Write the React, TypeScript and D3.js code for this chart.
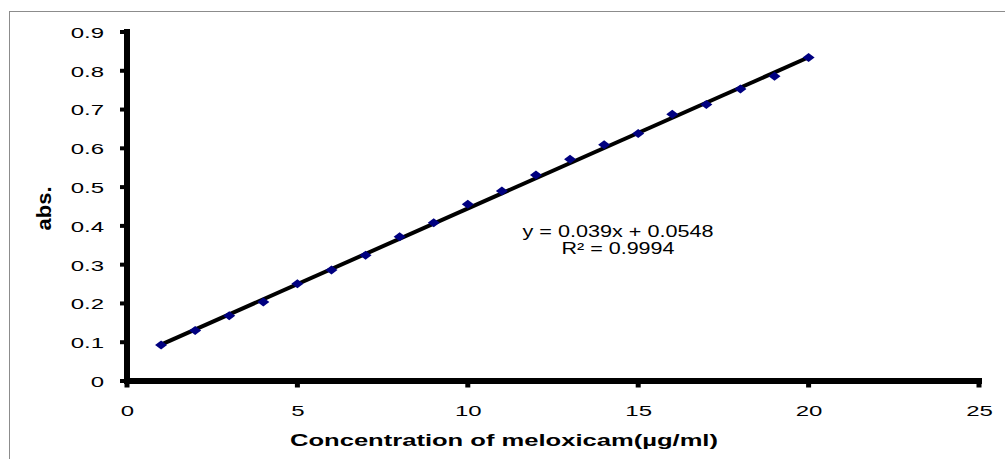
import React, { useEffect, useRef } from 'react';
import * as d3 from 'd3';

// calibration data
const concentration = [1, 2, 3, 4, 5, 6, 7, 8, 9, 10, 11, 12, 13, 14, 15, 16, 17, 18, 19, 20];
const absorbance = [
  0.093, 0.130, 0.168, 0.204, 0.251, 0.286, 0.324, 0.372, 0.408, 0.456,
  0.490, 0.531, 0.572, 0.609, 0.638, 0.688, 0.713, 0.753, 0.786, 0.834,
];
const xTicks = [0, 5, 10, 15, 20, 25];
const yTicks = [0, 0.1, 0.2, 0.3, 0.4, 0.5, 0.6, 0.7, 0.8, 0.9];
const fitSlope = 0.039;
const fitIntercept = 0.0548;
const equationLines = ['y = 0.039x + 0.0548', 'R² = 0.9994'];
const xTitle = 'Concentration of meloxicam(µg/ml)';
const yTitle = 'abs.';

const W = 1005;
const H = 459;
const FONT = "'Liberation Sans', Arial, sans-serif";

const App = () => {
  const svgRef = useRef<SVGSVGElement>(null);

  useEffect(() => {
    const svg = d3.select(svgRef.current);
    svg.selectAll('*').remove();

    const x = d3.scaleLinear().domain([0, 25]).range([127, 979]);
    const y = d3.scaleLinear().domain([0, 0.9]).range([381, 32]);

    // outer frame (cut off on right / bottom)
    svg.append('rect')
      .attr('x', 9.5).attr('y', 11.5)
      .attr('width', W + 20).attr('height', H + 20)
      .attr('fill', 'white')
      .attr('stroke', '#8c8c8c')
      .attr('stroke-width', 1);

    // y axis labels (d3 axis, lines drawn separately below)
    const yAxis = svg.append('g')
      .attr('transform', `translate(${x(0)},0)`)
      .call(d3.axisLeft(y).tickValues(yTicks).tickSize(0).tickSizeOuter(0).tickFormat(d => String(d)));
    yAxis.select('.domain').remove();
    yAxis.selectAll('.tick line').remove();
    yAxis.selectAll('.tick text')
      .attr('x', 0)
      .attr('dy', '0.36em')
      .attr('text-anchor', 'end')
      .attr('transform', 'translate(-23,0) scale(1.6,1)')
      .attr('font-family', FONT)
      .attr('font-size', 15)
      .attr('fill', '#000');

    // x axis labels
    const xAxis = svg.append('g')
      .attr('transform', `translate(0,${y(0)})`)
      .call(d3.axisBottom(x).tickValues(xTicks).tickSize(0).tickSizeOuter(0));
    xAxis.select('.domain').remove();
    xAxis.selectAll('.tick line').remove();
    xAxis.selectAll('.tick text')
      .attr('y', 35)
      .attr('dy', 0)
      .attr('transform', 'scale(1.6,1)')
      .attr('font-family', FONT)
      .attr('font-size', 15)
      .attr('fill', '#000');

    // heavy axis lines and tick marks
    const axes = svg.append('g').attr('stroke', '#000').style('stroke-linecap', 'square');
    axes.append('line')
      .attr('x1', x(0)).attr('x2', x(0))
      .attr('y1', y(0.9)).attr('y2', y(0))
      .style('stroke-width', '6px');
    axes.append('line')
      .attr('x1', x(0)).attr('x2', x(25))
      .attr('y1', y(0)).attr('y2', y(0))
      .style('stroke-width', '6px');
    axes.selectAll('.ytick')
      .data(yTicks)
      .join('line')
      .attr('class', 'ytick')
      .attr('x1', x(0) - 7).attr('x2', x(0))
      .attr('y1', d => y(d)).attr('y2', d => y(d))
      .style('stroke-width', '4px')
      .style('stroke-linecap', 'butt');
    axes.selectAll('.xtick')
      .data(xTicks)
      .join('line')
      .attr('class', 'xtick')
      .attr('x1', d => x(d)).attr('x2', d => x(d))
      .attr('y1', y(0)).attr('y2', y(0) + 6.5)
      .style('stroke-width', '5px')
      .style('stroke-linecap', 'butt');

    // linear fit
    const fitLine = d3.line<number>()
      .x(d => x(d))
      .y(d => y(fitSlope * d + fitIntercept));
    svg.append('path')
      .attr('d', fitLine([concentration[0], concentration[concentration.length - 1]]))
      .style('stroke', '#000')
      .style('stroke-width', '4px')
      .attr('fill', 'none');

    // diamond markers
    svg.append('g')
      .selectAll('path')
      .data(concentration)
      .join('path')
      .attr('d', (d, i) => {
        const cx = x(d);
        const cy = y(absorbance[i]);
        return `M${cx - 6},${cy}L${cx},${cy - 4.5}L${cx + 6},${cy}L${cx},${cy + 4.5}Z`;
      })
      .attr('fill', '#000080');

    // equation
    svg.append('g')
      .selectAll('text')
      .data(equationLines)
      .join('text')
      .attr('x', 618)
      .attr('y', (d, i) => 237 + i * 17)
      .attr('text-anchor', 'middle')
      .attr('font-family', FONT)
      .attr('font-size', 16)
      .attr('textLength', (d, i) => (i === 0 ? 191 : 113))
      .attr('lengthAdjust', 'spacingAndGlyphs')
      .text(d => d);

    // axis titles
    svg.append('text')
      .attr('x', 504)
      .attr('y', 446)
      .attr('text-anchor', 'middle')
      .attr('font-family', FONT)
      .attr('font-size', 17)
      .attr('font-weight', 'bold')
      .attr('textLength', 428)
      .attr('lengthAdjust', 'spacingAndGlyphs')
      .text(xTitle);

    svg.append('text')
      .attr('transform', `translate(51,${(y(0) + y(0.9)) / 2 + 2}) rotate(-90)`)
      .attr('text-anchor', 'middle')
      .attr('font-family', FONT)
      .attr('font-size', 21)
      .attr('font-weight', 'bold')
      .attr('textLength', 44)
      .attr('lengthAdjust', 'spacingAndGlyphs')
      .text(yTitle);
  }, []);

  return (
    <svg
      ref={svgRef}
      width={W}
      height={H}
      style={{ position: 'absolute', left: 0, top: 0, display: 'block', background: '#fff' }}
    />
  );
};

export default App;
